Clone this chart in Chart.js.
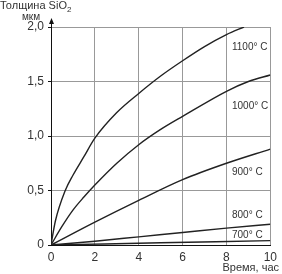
<!DOCTYPE html>
<html>
<head>
<meta charset="utf-8">
<script src="https://cdn.jsdelivr.net/npm/chart.js@4.4.1/dist/chart.umd.min.js"></script>
<style>
  html, body { margin: 0; padding: 0; background: #fff; }
  #wrap { width: 282px; height: 274px; }
</style>
</head>
<body>
<div id="wrap"><canvas id="chart" width="282" height="274"></canvas></div>
<script>
// oxide thickness (мкм) vs time (час) for each temperature
const hours1100 = [0, 0.2, 0.65, 1, 1.5, 2, 3, 4, 5, 6, 7, 8, 8.8];
const sio2_1100 = [0, 0.22, 0.5, 0.64, 0.81, 0.98, 1.215, 1.39, 1.55, 1.69, 1.82, 1.93, 2.0];

const hours1000 = [0, 0.5, 1, 1.5, 2, 3, 4, 5, 6, 8, 9, 10];
const sio2_1000 = [0, 0.17, 0.32, 0.44, 0.55, 0.75, 0.92, 1.06, 1.18, 1.41, 1.5, 1.56];

const hours900 = [0, 2, 4, 6, 8, 10];
const sio2_900 = [0, 0.21, 0.41, 0.6, 0.75, 0.88];

const hours800 = [0, 2, 4, 6, 8, 10];
const sio2_800 = [0, 0.035, 0.075, 0.115, 0.155, 0.19];

const hours700 = [0, 5, 10];
const sio2_700 = [0, 0.02, 0.04];

const curveLabels = ["1100° C", "1000° C", "900° C", "800° C", "700° C"];
const xTicks = [0, 2, 4, 6, 8, 10];
const yTicks = [0, 0.5, 1.0, 1.5, 2.0];

const FONT = "'Liberation Sans', Arial, sans-serif";

function toPoints(xs, ys) {
  return xs.map((x, i) => ({ x: x, y: ys[i] }));
}

const series = [
  toPoints(hours1100, sio2_1100),
  toPoints(hours1000, sio2_1000),
  toPoints(hours900, sio2_900),
  toPoints(hours800, sio2_800),
  toPoints(hours700, sio2_700),
];

// where the temperature labels sit (in data units)
const labelX = 8.25;
const labelY = [1.81, 1.27, 0.67, 0.275, 0.09];

const extras = {
  id: "extras",
  afterDraw(chart) {
    const { ctx, chartArea, scales } = chart;
    const xs = scales.x, ys = scales.y;
    ctx.save();
    ctx.fillStyle = "#333";
    ctx.textBaseline = "middle";

    // curve labels
    ctx.font = "10px " + FONT;
    ctx.textAlign = "left";
    curveLabels.forEach((t, i) => {
      ctx.fillText(t, xs.getPixelForValue(labelX), ys.getPixelForValue(labelY[i]));
    });

    // y-axis arrow
    const ax = Math.round(chartArea.left) + 0.5;
    ctx.strokeStyle = "#111";
    ctx.lineWidth = 1;
    ctx.beginPath();
    ctx.moveTo(ax, chartArea.top);
    ctx.lineTo(ax, chartArea.top - 7);
    ctx.stroke();
    ctx.fillStyle = "#111";
    ctx.beginPath();
    ctx.moveTo(ax, chartArea.top - 9);
    ctx.lineTo(ax - 2.5, chartArea.top - 3);
    ctx.lineTo(ax + 2.5, chartArea.top - 3);
    ctx.closePath();
    ctx.fill();

    // axis titles
    ctx.fillStyle = "#333";
    ctx.font = "11px " + FONT;
    ctx.textAlign = "left";
    ctx.fillText("Толщина SiO", 0, 6);
    const w = ctx.measureText("Толщина SiO").width;
    ctx.font = "8px " + FONT;
    ctx.fillText("2", w, 10);
    ctx.font = "10px " + FONT;
    ctx.textAlign = "center";
    ctx.fillText("мкм", 31, 17);
    ctx.font = "11px " + FONT;
    ctx.textAlign = "right";
    ctx.fillText("Время, час", 279, 268);
    ctx.restore();
  },
};

new Chart(document.getElementById("chart"), {
  type: "line",
  data: {
    datasets: series.map((pts, i) => ({
      label: curveLabels[i],
      data: pts,
      borderColor: "#222",
      borderWidth: 1.4,
      pointRadius: 0,
      fill: false,
      cubicInterpolationMode: "monotone",
    })),
  },
  options: {
    responsive: false,
    animation: false,
    layout: { padding: { top: 27, right: 8, left: 0, bottom: 0 } },
    plugins: { legend: { display: false }, tooltip: { enabled: false } },
    scales: {
      x: {
        type: "linear",
        min: 0,
        max: 10,
        afterBuildTicks: (s) => { s.ticks = xTicks.map((v) => ({ value: v })); },
        afterFit: (s) => { s.height = 29; },
        grid: { color: "#999", lineWidth: 1, drawTicks: false },
        border: { color: "#111", width: 1 },
        ticks: { color: "#333", padding: 5, font: { family: FONT, size: 12 }, maxRotation: 0 },
      },
      y: {
        type: "linear",
        min: 0,
        max: 2,
        afterBuildTicks: (s) => { s.ticks = yTicks.map((v) => ({ value: v })); },
        afterFit: (s) => { s.width = 51; },
        grid: { color: "#999", lineWidth: 1, tickLength: 3, tickColor: "#111" },
        border: { color: "#111", width: 1 },
        ticks: {
          color: "#333",
          padding: 4,
          font: { family: FONT, size: 12 },
          callback: (v) => (v === 0 ? "0" : v.toFixed(1).replace(".", ",")),
        },
      },
    },
  },
  plugins: [extras],
});
</script>
</body>
</html>
